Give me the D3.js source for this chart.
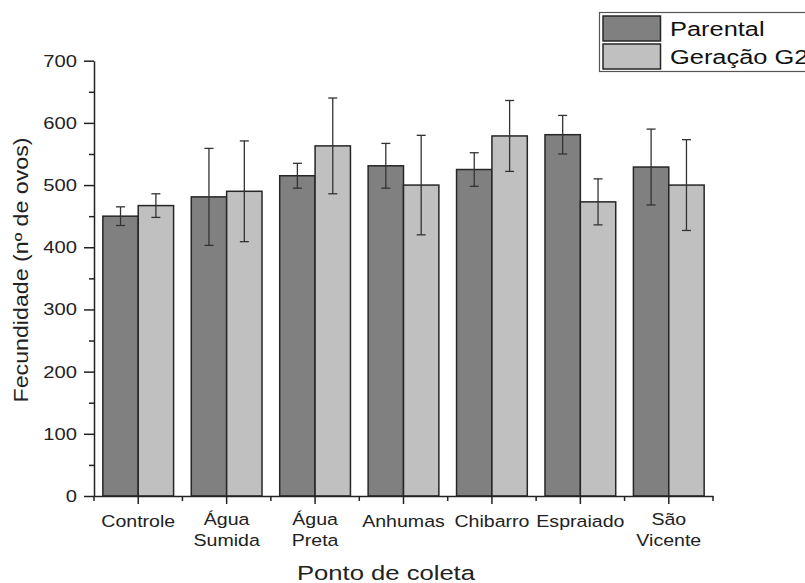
<!DOCTYPE html>
<html><head><meta charset="utf-8">
<script src="https://cdn.jsdelivr.net/npm/d3@7"></script>
<style>body{margin:0;background:#fff}svg{display:block;font-family:Arial,"Liberation Sans",sans-serif}</style>
</head><body>
<svg id="c" width="805" height="583"></svg>
<script>
const categories = ["Controle","Água Sumida","Água Preta","Anhumas","Chibarro","Espraiado","São Vicente"];
const labelLines = [["Controle"],["Água","Sumida"],["Água","Preta"],["Anhumas"],["Chibarro"],["Espraiado"],["São","Vicente"]];
const seriesNames = ["Parental","Geração G2"];
const parental = [450, 481, 515, 531, 525, 581, 529];
const parentalErr = [15, 78, 20, 36, 27, 31, 61];
const g2 = [467, 490, 563, 500, 579, 473, 500];
const g2Err = [19, 81, 77, 80, 57, 37, 73];
const yTicks = [0,100,200,300,400,500,600,700];
const yMinor = [50,150,250,350,450,550,650];
const colors = ["#808080","#c0c0c0"];

const svg = d3.select("#c");
const SX = 1.24;
const x0 = d3.scaleBand().domain(categories).range([94,713]).paddingInner(0.2).paddingOuter(0.1);
const x1 = d3.scaleBand().domain(seriesNames).range([0, x0.bandwidth()]);
const y = d3.scaleLinear().domain([0,700]).range([496,60.7]);

const data = categories.map((c,i)=>({c, vals:[{s:seriesNames[0],v:parental[i],e:parentalErr[i]},{s:seriesNames[1],v:g2[i],e:g2Err[i]}]}));

const g = svg.append("g");
const grp = g.selectAll("g.grp").data(data).join("g").attr("transform",d=>`translate(${x0(d.c)},0)`);
grp.selectAll("rect").data(d=>d.vals).join("rect")
  .attr("x",d=>x1(d.s)).attr("width",x1.bandwidth())
  .attr("y",d=>y(d.v)).attr("height",d=>y(0)-y(d.v))
  .attr("fill",(d,i)=>colors[i]).attr("stroke","#262626").attr("stroke-width",1.5);
// error bars
const eb = grp.selectAll("g.eb").data(d=>d.vals).join("g").attr("class","eb")
  .attr("transform",d=>`translate(${x1(d.s)+x1.bandwidth()/2},0)`)
  .attr("stroke","#333").attr("stroke-width",1.3);
eb.append("line").attr("x1",0).attr("x2",0).attr("y1",d=>y(d.v+d.e)).attr("y2",d=>y(d.v-d.e));
eb.append("line").attr("x1",-4.5).attr("x2",4.5).attr("y1",d=>y(d.v+d.e)).attr("y2",d=>y(d.v+d.e));
eb.append("line").attr("x1",-4.5).attr("x2",4.5).attr("y1",d=>y(d.v-d.e)).attr("y2",d=>y(d.v-d.e));

// y axis
const ya = svg.append("g").attr("transform","translate(94,0)")
  .call(d3.axisLeft(y).tickValues(yTicks).tickSize(10).tickFormat("").tickSizeOuter(0));
const ym = svg.append("g").attr("transform","translate(94,0)")
  .call(d3.axisLeft(y).tickValues(yMinor).tickSize(5).tickFormat("").tickSizeOuter(0));
ym.select(".domain").remove();
[ya,ym].forEach(a=>{a.selectAll("line,path").attr("stroke","#222").attr("stroke-width",1.5);});
svg.append("g").selectAll("text").data(yTicks).join("text")
  .attr("transform",d=>`translate(77,${y(d)+6}) scale(${SX},1)`)
  .attr("text-anchor","end").attr("font-size",16.3).attr("fill","#222").text(d=>d);

// x axis
const xa = svg.append("g").attr("transform","translate(0,496)")
  .call(d3.axisBottom(x0).tickSize(8).tickFormat("").tickSizeOuter(0));
const bounds = categories.map(c=>x0(c)-x0.step()*x0.paddingInner()/2).concat([713]);
bounds[0]=94;
svg.append("g").selectAll("line").data(bounds).join("line")
  .attr("x1",d=>d).attr("x2",d=>d).attr("y1",496).attr("y2",501)
  .attr("stroke","#222").attr("stroke-width",1.5);
xa.selectAll("line,path").attr("stroke","#222").attr("stroke-width",1.5);

const xl = svg.append("g").selectAll("g").data(categories).join("g")
  .attr("transform",(d)=>`translate(${x0(d)+x0.bandwidth()/2},0)`);
xl.each(function(d,i){
  const lines = labelLines[i];
  lines.forEach((t,j)=>{
    d3.select(this).append("text")
      .attr("transform",`translate(0,${(lines.length>1?525:527)+j*21}) scale(1.2,1)`)
      .attr("text-anchor","middle").attr("font-size",16.3).attr("fill","#222").text(t);
  });
});

// axis titles
svg.append("text").attr("transform",`translate(386,580) scale(1.25,1)`)
  .attr("text-anchor","middle").attr("font-size",20.5).attr("fill","#222").text("Ponto de coleta");
svg.append("text").attr("transform",`translate(27.5,270) rotate(-90) scale(1.19,1)`)
  .attr("text-anchor","middle").attr("font-size",19.5).attr("fill","#222").text("Fecundidade (nº de ovos)");

// legend
const lg = svg.append("g");
lg.append("rect").attr("x",599.5).attr("y",12.5).attr("width",240).attr("height",59)
  .attr("fill","#fff").attr("stroke","#555").attr("stroke-width",1.2);
const li = lg.selectAll("g.li").data(seriesNames).join("g").attr("class","li")
  .attr("transform",(d,i)=>`translate(0,${i*28})`);
li.append("rect").attr("x",603).attr("y",16).attr("width",57.5).attr("height",25)
  .attr("fill",(d,i)=>colors[i]).attr("stroke","#262626").attr("stroke-width",1.5);
li.append("text").attr("transform",`translate(670,36) scale(1.27,1)`)
  .attr("font-size",20).attr("fill","#111").text(d=>d);
</script>
</body></html>
